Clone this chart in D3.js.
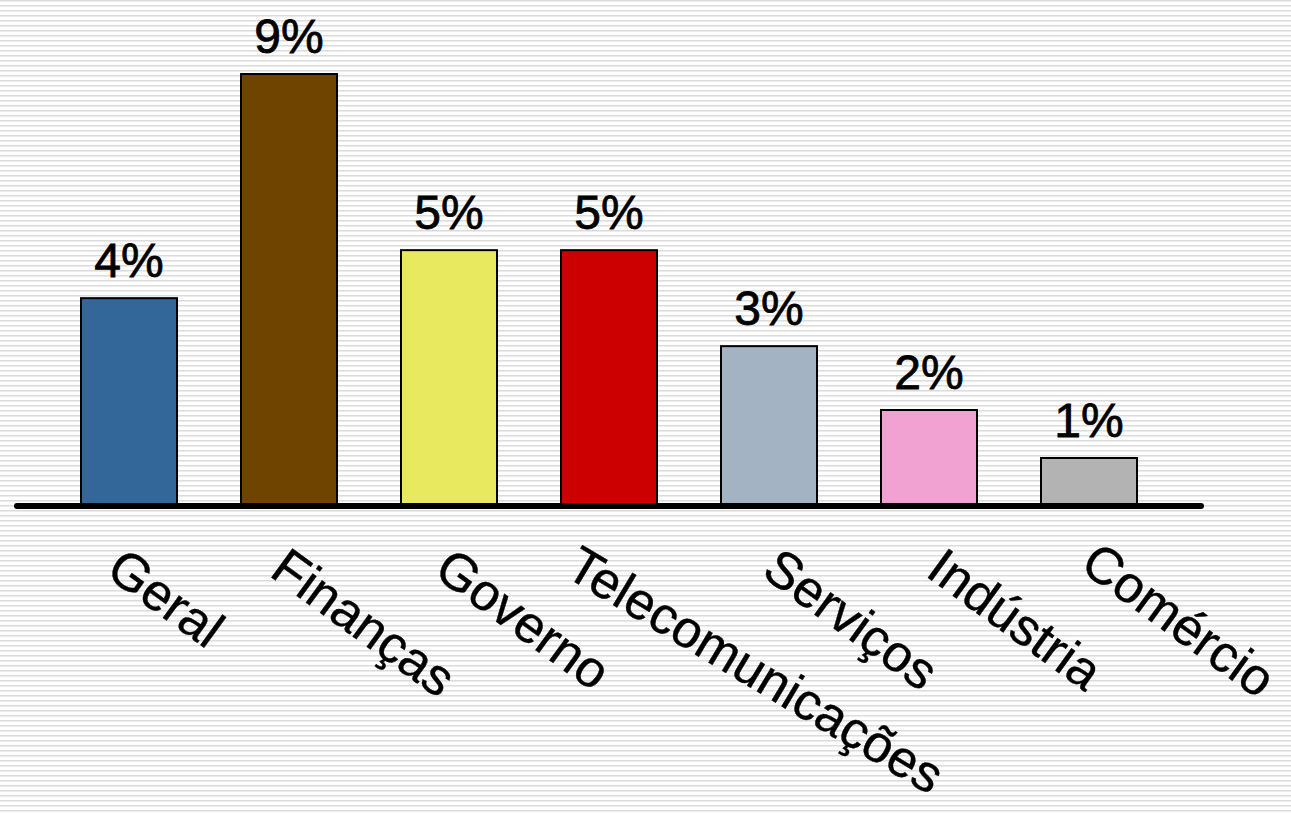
<!DOCTYPE html>
<html>
<head>
<meta charset="utf-8">
<script src="https://cdn.jsdelivr.net/npm/d3@7"></script>
<style>
  html, body { margin: 0; padding: 0; background: #fff; }
  svg { display: block; }
</style>
</head>
<body>
<svg id="chart" width="1291" height="813"></svg>
<script>
const categories = ["Geral", "Finanças", "Governo", "Telecomunicações", "Serviços", "Indústria", "Comércio"];
const values = [4.33, 9.0, 5.33, 5.33, 3.33, 2.0, 1.0];
const valueLabels = ["4%", "9%", "5%", "5%", "3%", "2%", "1%"];
const colors = ["#336699", "#6E4400", "#E9E95F", "#CC0000", "#A3B3C3", "#F2A2D2", "#B3B3B3"];

const W = 1291, H = 813;
const svg = d3.select("#chart");

// striped background
const defs = svg.append("defs");
const pat = defs.append("pattern").attr("id", "stripes")
  .attr("patternUnits", "userSpaceOnUse").attr("width", 8).attr("height", 5);
pat.append("rect").attr("width", 8).attr("height", 5).attr("fill", "#ffffff");
pat.append("rect").attr("y", 0).attr("width", 8).attr("height", 1).attr("fill", "#dcdcdc");
pat.append("rect").attr("y", 1).attr("width", 8).attr("height", 1).attr("fill", "#ececec");
svg.append("rect").attr("width", W).attr("height", H).attr("fill", "url(#stripes)");

const x = d3.scaleBand().domain(categories).range([17, 1201]).paddingInner(0.4).paddingOuter(0.4);
const y = d3.scaleLinear().domain([0, 10]).range([506, 26]);
// anchor positions of the rotated category labels
const xLab = d3.scalePoint().domain(categories).range([106, 1090]);

const data = categories.map((c, i) => ({ c, v: values[i], lab: valueLabels[i], col: colors[i] }));

svg.append("g").selectAll("rect").data(data).join("rect")
  .attr("x", d => x(d.c))
  .attr("y", d => y(d.v))
  .attr("width", x.bandwidth())
  .attr("height", d => y(0) - y(d.v))
  .attr("fill", d => d.col)
  .attr("stroke", "#000")
  .attr("stroke-width", 2);

svg.append("g").selectAll("text").data(data).join("text")
  .attr("x", d => x(d.c) + x.bandwidth() / 2)
  .attr("y", d => y(d.v) - 21)
  .attr("text-anchor", "middle")
  .attr("font-family", "'Liberation Sans', Arial, sans-serif")
  .attr("font-size", 48)
  .attr("fill", "#000")
  .attr("stroke", "#000")
  .attr("stroke-width", 0.8)
  .text(d => d.lab);

// axis line
const [r0, r1] = x.range();
svg.append("line")
  .attr("x1", r0).attr("x2", r1).attr("y1", y(0)).attr("y2", y(0))
  .attr("stroke", "#000").attr("stroke-width", 6).attr("stroke-linecap", "round");

// rotated category labels
const angle = 36, flatAngle = 31, longShift = 33;
const labels = svg.append("g").selectAll("text").data(data).join("text")
  .attr("font-family", "'Liberation Sans', Arial, sans-serif")
  .attr("font-size", 52)
  .attr("fill", "#000")
  .attr("stroke", "#000")
  .attr("stroke-width", 0.4)
  .text(d => d.c);

labels.each(function(d) {
  let ax = xLab(d.c) - 2;
  let ay = 575;
  let a = angle;
  const el = d3.select(this);
  const place = () => el.attr("transform", `translate(${ax},${ay}) rotate(${a})`);
  place();
  let b = this.getBoundingClientRect();
  if (b.bottom > H - 8) {        // too long: flatten and move left
    a = flatAngle;
    ax -= longShift;
    place();
  }
  b = this.getBoundingClientRect();
  if (b.right > W - 5) {         // keep inside right edge
    ax -= b.right - (W - 5);
    ay -= 6;
    place();
  }
});
</script>
</body>
</html>
